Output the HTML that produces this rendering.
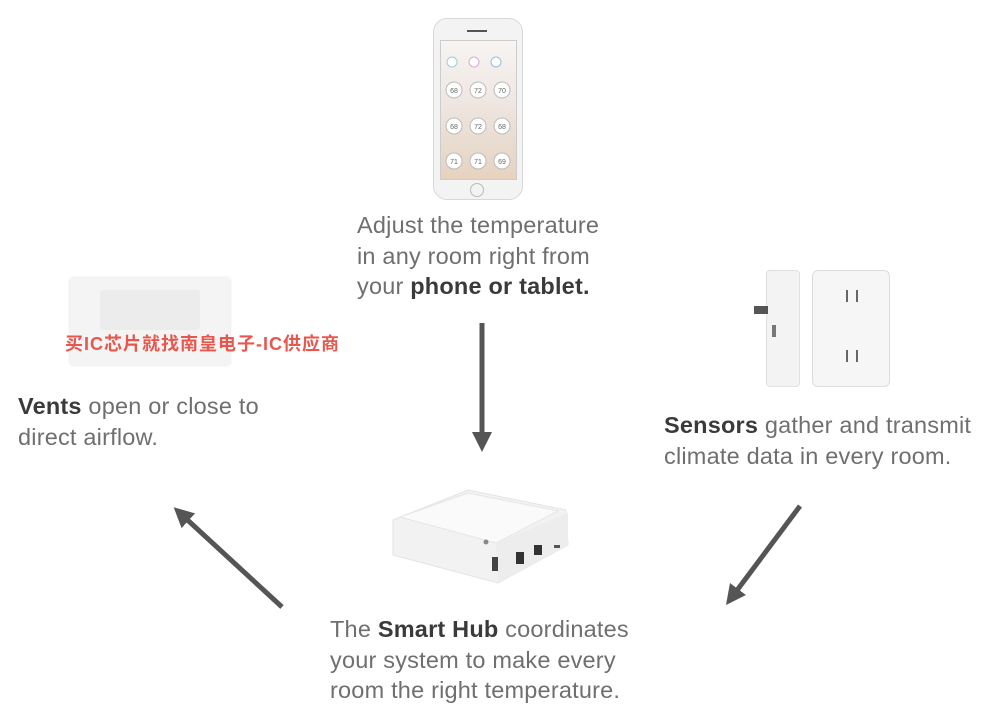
<!DOCTYPE html>
<html><head><meta charset="utf-8"><style>
body{margin:0;width:988px;height:715px;background:#fff;position:relative;overflow:hidden;font-family:"Liberation Sans","Noto Sans CJK SC",sans-serif}
.t{position:absolute;font-size:23.5px;letter-spacing:0.2px;line-height:30.5px;color:#6f6f6f;white-space:nowrap}
.t b{color:#3a3a3a}
.a{position:absolute}
</style></head><body>
<!-- phone -->
<div class="a" style="left:433px;top:18px;width:90px;height:182px;border-radius:14px;background:#f3f3f3;border:1px solid #d8d8d8;box-sizing:border-box"></div>
<div class="a" style="left:440px;top:40px;width:77px;height:140px;background:linear-gradient(#f7f4f2 0%,#f0e8e4 40%,#e9ddd3 70%,#e6d3bf 100%);border:1px solid #ccc;box-sizing:border-box"></div>
<div class="a" style="left:467px;top:30px;width:20px;height:2px;background:#555"></div>
<div class="a" style="left:470px;top:183px;width:12px;height:12px;border-radius:50%;border:1px solid #bbb"></div>
<svg class="a" style="left:440px;top:40px" width="77" height="140">
<g fill="#fff" stroke="#bbb" stroke-width="1">
<circle cx="12" cy="22" r="5" stroke="#9cd"/><circle cx="34" cy="22" r="5" stroke="#dac"/><circle cx="56" cy="22" r="5" stroke="#9bd"/>
<circle cx="14" cy="50" r="8"/><circle cx="38" cy="50" r="8"/><circle cx="62" cy="50" r="8"/>
<circle cx="14" cy="86" r="8"/><circle cx="38" cy="86" r="8"/><circle cx="62" cy="86" r="8"/>
<circle cx="14" cy="121" r="8"/><circle cx="38" cy="121" r="8"/><circle cx="62" cy="121" r="8"/></g>
<g font-size="7" fill="#666" text-anchor="middle" font-family="Liberation Sans"><text x="14" y="53">68</text><text x="38" y="53">72</text><text x="62" y="53">70</text><text x="14" y="89">68</text><text x="38" y="89">72</text><text x="62" y="89">68</text><text x="14" y="124">71</text><text x="38" y="124">71</text><text x="62" y="124">69</text></g>
</svg>
<div class="t" style="left:357px;top:210px">Adjust the temperature<br>in any room right from<br>your <b>phone or tablet.</b></div>
<!-- vent -->
<div class="a" style="left:70px;top:278px;width:160px;height:87px;background:#f4f4f4;border-radius:3px;box-shadow:0 0 3px #ddd"></div>
<div class="a" style="left:100px;top:290px;width:100px;height:40px;background:#ececec;border-radius:3px"></div>
<div class="a" style="left:65px;top:330px;font-size:18px;letter-spacing:1px;font-weight:bold;color:#e8574d;white-space:nowrap">买IC芯片就找南皇电子-IC供应商</div>
<div class="t" style="left:18px;top:391px"><b>Vents</b> open or close to<br>direct airflow.</div>
<!-- sensors -->
<div class="a" style="left:766px;top:270px;width:32px;height:115px;background:#f3f3f3;border:1px solid #e0e0e0;border-radius:4px"></div>
<div class="a" style="left:754px;top:306px;width:14px;height:8px;background:#555"></div>
<div class="a" style="left:772px;top:325px;width:4px;height:12px;background:#777"></div>
<div class="a" style="left:812px;top:270px;width:76px;height:115px;background:#f6f6f6;border:1px solid #ddd;border-radius:6px"></div>
<div class="a" style="left:846px;top:290px;width:8px;height:12px;border-left:2px solid #666;border-right:2px solid #666"></div>
<div class="a" style="left:846px;top:350px;width:8px;height:12px;border-left:2px solid #666;border-right:2px solid #666"></div>
<div class="t" style="left:664px;top:410px"><b>Sensors</b> gather and transmit<br>climate data in every room.</div>
<!-- hub -->
<svg class="a" style="left:388px;top:485px" width="185" height="102">
<path d="M5 35 L80 5 L178 25 L180 60 L110 98 L5 70 Z" fill="#f2f2f2" stroke="#e4e4e4"/>
<path d="M12 32 L80 8 L170 26 L108 58 Z" fill="#fafafa" stroke="#e6e6e6"/>
<path d="M108 58 L180 28 L180 60 L110 98 Z" fill="#ededed"/>
<circle cx="98" cy="57" r="2.5" fill="#888"/>
<rect x="104" y="72" width="6" height="14" fill="#444"/><rect x="128" y="67" width="8" height="12" fill="#333"/><rect x="146" y="60" width="8" height="10" fill="#333"/>
<rect x="166" y="60" width="6" height="3" fill="#555"/>
</svg>
<div class="t" style="left:330px;top:614px">The <b>Smart Hub</b> coordinates<br>your system to make every<br>room the right temperature.</div>
<!-- arrows -->
<svg class="a" style="left:0;top:0" width="988" height="715">
<defs><marker id="m" markerWidth="4" markerHeight="4" refX="2" refY="2" orient="auto"><path d="M0,0 L4,2 L0,4 Z" fill="#555"/></marker></defs>
<g stroke="#555" stroke-width="5" marker-end="url(#m)">
<line x1="482" y1="323" x2="482" y2="442"/>
<line x1="282" y1="607" x2="181" y2="514"/>
<line x1="800" y1="506" x2="732" y2="597"/>
</g></svg>
</body></html>
